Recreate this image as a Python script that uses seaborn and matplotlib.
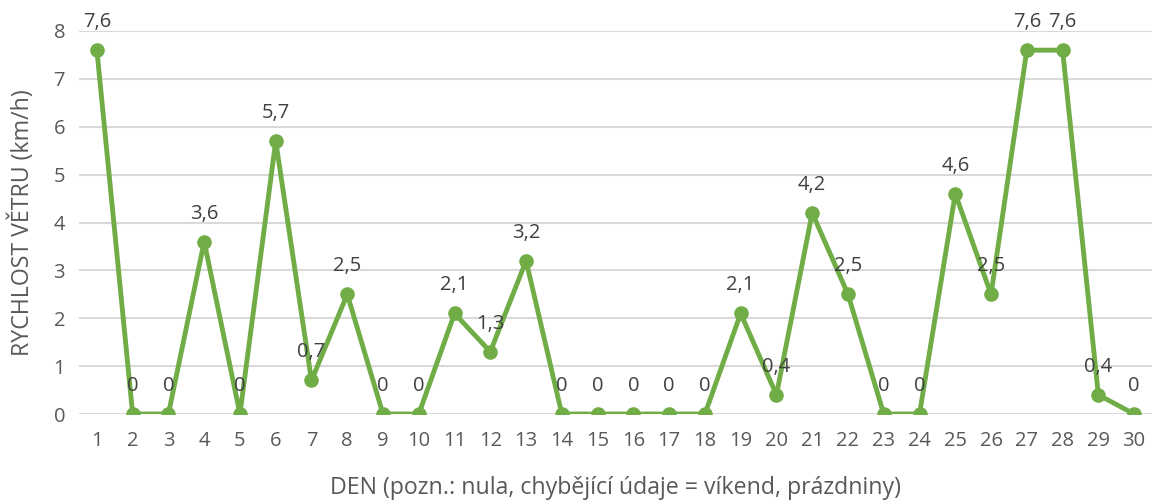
import pandas as pd
import numpy as np
import matplotlib
matplotlib.use('Agg')
import matplotlib.pyplot as plt
import seaborn as sns

# data
days = list(range(1, 31))
speeds = [7.6, 0, 0, 3.6, 0, 5.7, 0.7, 2.5, 0, 0,
          2.1, 1.3, 3.2, 0, 0, 0, 0, 0, 2.1, 0.4,
          4.2, 2.5, 0, 0, 4.6, 2.5, 7.6, 7.6, 0.4, 0]
y_ticks = [0, 1, 2, 3, 4, 5, 6, 7, 8]

df = pd.DataFrame({'den': days, 'rychlost': speeds})

sns.set_style('white')
plt.rcParams['font.family'] = ['Open Sans', 'DejaVu Sans']
gray = '#595959'
green = '#70AD47'

fig = plt.figure(figsize=(11.53, 5.01), dpi=100)
ax = fig.add_axes([79 / 1153, 1 - 414 / 501, (1152 - 79) / 1153, (414 - 31) / 501])

# gridlines
for t in y_ticks:
    ax.axhline(t, color='#D9D9D9', lw=1.5, zorder=0)

sns.lineplot(data=df, x='den', y='rychlost', ax=ax, color=green, linewidth=3.5,
             marker='o', markersize=10.5, markeredgewidth=0, zorder=3)

# data labels
for d, v in zip(days, speeds):
    lbl = f'{v:g}'.replace('.', ',')
    ax.annotate(lbl, (d, v), xytext=(0, 13), textcoords='offset points',
                ha='center', va='bottom', fontsize=14.5, color='#404040', zorder=4)

ax.set_xlim(0.5, 30.5)
ax.set_ylim(0, 8)
ax.set_xticks(days)
ax.set_yticks(y_ticks)
ax.tick_params(axis='both', labelsize=14.5, colors=gray, length=0)
ax.tick_params(axis='x', pad=12)
ax.tick_params(axis='y', pad=10)
for s in ax.spines.values():
    s.set_visible(False)

ax.set_xlabel('DEN (pozn.: nula, chybějící údaje = víkend, prázdniny)', fontsize=16.7, color=gray, labelpad=18)
ax.set_ylabel('RYCHLOST VĚTRU (km/h)', fontsize=16.7, color=gray, labelpad=13)

fig.savefig('out.png', dpi=100)
